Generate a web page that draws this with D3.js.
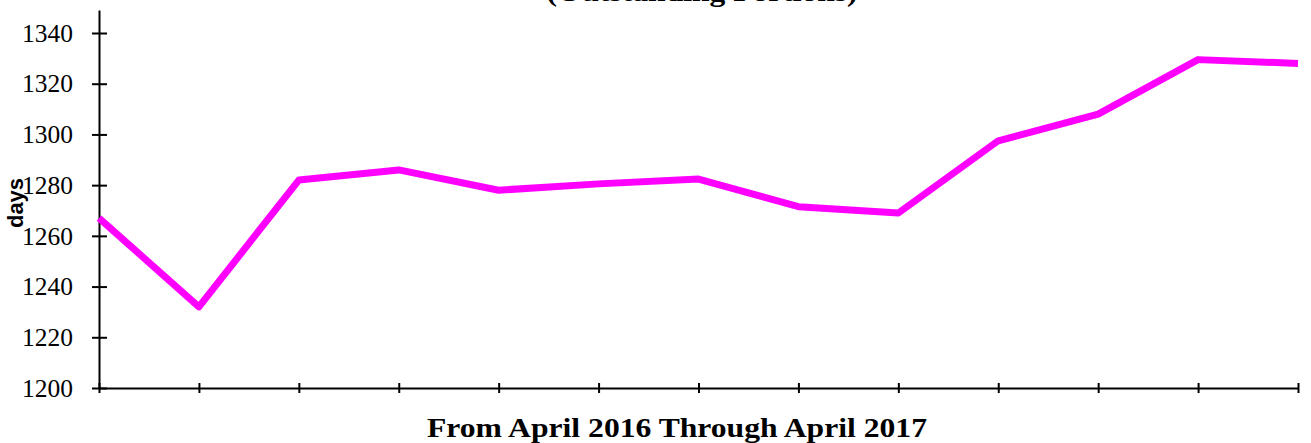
<!doctype html>
<html lang="en">
  <head>
    <meta charset="utf-8">
    <script src="https://d3js.org/d3.v7.min.js"></script>
    <style>
      body { margin: 0; background: #fff; }
    </style>
    <title>Outstanding Portions</title>
  </head>
  <body>
<div id="my_dataviz"></div>

<script>
    // months on the x axis (no tick labels are shown on the chart)
    var months = ["Apr 2016", "May 2016", "Jun 2016", "Jul 2016", "Aug 2016", "Sep 2016",
                  "Oct 2016", "Nov 2016", "Dec 2016", "Jan 2017", "Feb 2017", "Mar 2017", "Apr 2017"];
    // days
    var days = [1267, 1232, 1282, 1286, 1278, 1280.5, 1282.4, 1271.5, 1269, 1297.5, 1308, 1329.5, 1328];
    var yTicks = [1200, 1220, 1240, 1260, 1280, 1300, 1320, 1340];

    var width = 1311, height = 443;
    var serif = "'Liberation Serif', 'Times New Roman', serif";

    var svg = d3.select("#my_dataviz")
      .append("svg")
        .attr("width", width)
        .attr("height", height);

    var x = d3.scalePoint()
      .domain(months)
      .range([99, 1298]);

    var y = d3.scaleLinear()
      .domain([1200, 1349.07])
      .range([388, 10]);

    // title (only its last line is inside the picture)
    svg.append("text")
      .attr("x", 702)
      .attr("y", 1)
      .attr("text-anchor", "middle")
      .attr("font-family", serif)
      .attr("font-weight", "bold")
      .attr("font-size", 28)
      .attr("textLength", 311)
      .attr("lengthAdjust", "spacingAndGlyphs")
      .text("(Outstanding Portions)");

    // Y axis
    var yAxis = svg.append("g")
      .attr("transform", "translate(99,0)")
      .call(d3.axisLeft(y).tickValues(yTicks).tickSizeOuter(0).tickSize(0).tickFormat(d3.format("d")));
    yAxis.attr("font-family", serif).attr("font-size", 25);
    yAxis.select(".domain").attr("stroke", "#000").attr("stroke-width", 2);
    yAxis.selectAll(".tick line").attr("x1", -7).attr("x2", 8).attr("stroke", "#000").attr("stroke-width", 2);
    yAxis.selectAll(".tick text")
      .attr("x", -26)
      .attr("dy", "0.33em")
      .attr("fill", "#000")
      .attr("textLength", 51)
      .attr("lengthAdjust", "spacingAndGlyphs");

    // X axis
    var xAxis = svg.append("g")
      .attr("transform", "translate(0,388)")
      .call(d3.axisBottom(x).tickSizeOuter(0).tickSize(0).tickFormat(""));
    xAxis.select(".domain").attr("stroke", "#000").attr("stroke-width", 2);
    xAxis.selectAll(".tick line").attr("y1", -5).attr("y2", 5).attr("stroke", "#000").attr("stroke-width", 2);

    // axis titles
    svg.append("text")
      .attr("transform", "translate(23,203) rotate(-90)")
      .attr("text-anchor", "middle")
      .attr("font-family", "'Liberation Sans', Arial, sans-serif")
      .attr("font-weight", "bold")
      .attr("font-size", 22)
      .attr("textLength", 50)
      .attr("lengthAdjust", "spacingAndGlyphs")
      .text("days");

    svg.append("text")
      .attr("x", 677)
      .attr("y", 437)
      .attr("text-anchor", "middle")
      .attr("font-family", serif)
      .attr("font-weight", "bold")
      .attr("font-size", 27)
      .attr("textLength", 500)
      .attr("lengthAdjust", "spacingAndGlyphs")
      .text("From April 2016 Through April 2017");

    // the line
    var line = d3.line()
      .x(function(d, i) { return x(months[i]); })
      .y(function(d) { return y(d); });

    svg.append("path")
      .datum(days)
      .attr("d", line)
      .attr("fill", "none")
      .attr("stroke", "#ff00ff")
      .attr("stroke-width", 7)
      .attr("stroke-linejoin", "round");
</script>
</body>
</html>
